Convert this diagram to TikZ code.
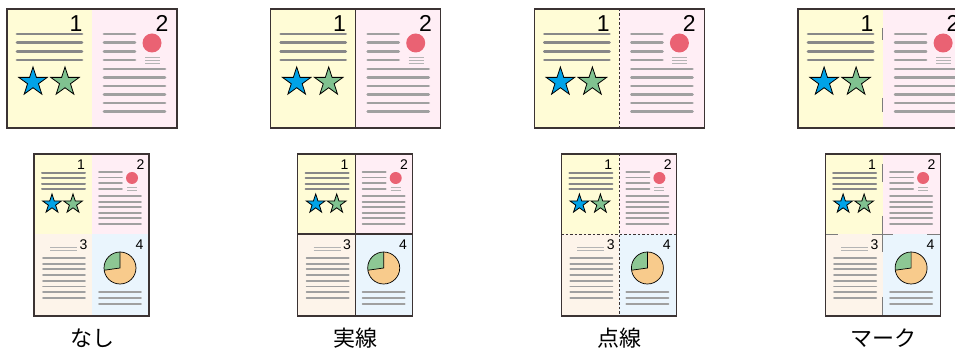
\documentclass[tikz,border=0pt]{standalone}
\usepackage{fontspec}
\newfontfamily\digitfont{Liberation Sans}
\newfontfamily\jpfont{Noto Sans CJK JP}
\usetikzlibrary{shapes.geometric,calc}
\definecolor{pgyellow}{HTML}{FFFCD6}
\definecolor{pgpink}{HTML}{FFEEF5}
\definecolor{pgbeige}{HTML}{FDF4EA}
\definecolor{pgblue}{HTML}{EAF5FD}
\definecolor{linedark}{HTML}{888888}
\definecolor{linelight}{HTML}{A0A0A0}
\definecolor{linefaint}{HTML}{B4B4B4}
\definecolor{starblue}{HTML}{00A3E8}
\definecolor{stargreen}{HTML}{80C290}
\definecolor{redcirc}{HTML}{EA6273}
\definecolor{pieorange}{HTML}{F8CB8C}
\definecolor{piegreen}{HTML}{8DC794}
\definecolor{framecol}{HTML}{3B3333}
\definecolor{markcol}{HTML}{7C7C7C}
\tikzset{
  tlineA/.style={line width=2.8pt, line cap=round, color=linedark},
  tlineB/.style={line width=2.7pt, line cap=round, color=linelight},
  tlineS/.style={line width=1.2pt, color=linefaint},
  blineA/.style={line width=2pt, line cap=round, color=linedark},
  blineB/.style={line width=1.9pt, line cap=round, color=linelight},
  blineS/.style={line width=1.1pt, color=linefaint},
  starnode/.style={star, star points=5, star point ratio=2.618, draw=black, line width=0.8pt, inner sep=0pt},
  bigdigit/.style={font=\digitfont\fontsize{23}{23}\selectfont, anchor=base east, inner sep=0pt, text=black},
  smalldigit/.style={font=\digitfont\fontsize{14}{14}\selectfont, anchor=base east, inner sep=0pt, text=black},
  sheetframe/.style={draw=framecol, line width=1.4pt},
  bsheetframe/.style={draw=framecol, line width=1.2pt},
  solidsep/.style={draw=framecol, line width=1.1pt},
  dashsep/.style={draw=framecol, line width=0.9pt, dash pattern=on 2.5pt off 2pt},
  marksep/.style={draw=markcol, line width=1.5pt},
  caption/.style={font=\jpfont\fontsize{22}{22}\selectfont, inner sep=0pt, text=black},
}
\newcommand\TopSheet[2]{%
\begin{scope}[shift={(#1,0)}]
  \fill[pgyellow] (7,9) rectangle (92,128);
  \fill[pgpink] (92,9) rectangle (177,128);
  \foreach \yy in {34,42.7,51.4,60} \draw[tlineA] (17,\yy) -- (82,\yy);
  \node[starnode, fill=starblue, minimum size=30pt] (#2sa) at (33,82) {};
  \node[starnode, fill=stargreen, minimum size=30pt] (#2sb) at (65,82) {};
  \node[bigdigit] (#2na) at (82.5,31.5) {1};
  \node[bigdigit] (#2nb) at (168.5,31.5) {2};
  \foreach \yy in {34,42.7,51.4,60} \draw[tlineB] (104,\yy) -- (135,\yy);
  \fill[redcirc] (152,43) circle[radius=9.5];
  \foreach \yy in {57.5,60.5,63.5} \draw[tlineS] (145,\yy) -- (160,\yy);
  \foreach \yy in {69,77.5,86,94.5,103,111.5} \draw[tlineB] (104,\yy) -- (165,\yy);
\end{scope}}
\newcommand\BottomSheet[2]{%
\begin{scope}[shift={(#1,0)}]
  \fill[pgyellow] (34,154) rectangle (92,234);
  \fill[pgpink] (92,154) rectangle (149,234);
  \fill[pgbeige] (34,234) rectangle (92,316);
  \fill[pgblue] (92,234) rectangle (149,316);
  \foreach \yy in {173,178.3,183.6,189} \draw[blineA] (42,\yy) -- (85,\yy);
  \node[starnode, fill=starblue, minimum size=20pt] (#2sa) at (52,204) {};
  \node[starnode, fill=stargreen, minimum size=20pt] (#2sb) at (73,204) {};
  \node[smalldigit] (#2na) at (85,170) {1};
  \node[smalldigit] (#2nb) at (144.5,169.5) {2};
  \fill[redcirc] (132,178) circle[radius=6];
  \foreach \yy in {172,177.5,183,189} \draw[blineB] (99,\yy) -- (122,\yy);
  \foreach \yy in {187.5,190.5} \draw[blineS] (127,\yy) -- (137,\yy);
  \foreach \yy in {196,201.6,207.2,212.8,218.4,224} \draw[blineB] (99,\yy) -- (141,\yy);
  \node[smalldigit] (#2nc) at (87.5,250) {3};
  \foreach \yy in {247.5,250.5} \draw[blineS] (50,\yy) -- (77,\yy);
  \foreach \yy in {258,263.7,269.4,275.1,280.8,286.5,292.2,297.9} \draw[blineB] (43,\yy) -- (85,\yy);
  \node[smalldigit] (#2nd) at (143.5,250) {4};
  \fill[pieorange] (120,268) circle[radius=16];
  \fill[piegreen] (120,268) -- ++(172:16) arc[start angle=172, end angle=270, radius=16] -- cycle;
  \draw[black, line width=0.7pt] (120,268) circle[radius=16];
  \draw[black, line width=0.7pt] ($(120,268)+(172:16)$) -- (120,268) -- (120,252);
  \foreach \yy in {292,298,304} \draw[blineB] (99,\yy) -- (141,\yy);
\end{scope}}
\begin{document}
\begin{tikzpicture}[x=1pt, y=-1pt]
  \clip (0,0) rectangle (955,352);
  \fill[white] (0,0) rectangle (955,352);
  \TopSheet{0}{ta}
  \TopSheet{263.7}{tb}
  \TopSheet{527.4}{tc}
  \TopSheet{791.1}{td}
  \BottomSheet{0}{ba}
  \BottomSheet{263.7}{bb}
  \BottomSheet{527.4}{bc}
  \BottomSheet{791.1}{bd}
  % solid separators
  \begin{scope}[shift={(263.7,0)}]
    \draw[solidsep] (92,9) -- (92,128);
    \draw[solidsep] (92,154) -- (92,316);
    \draw[solidsep] (34,234) -- (149,234);
  \end{scope}
  % dashed separators
  \begin{scope}[shift={(527.4,0)}]
    \draw[dashsep] (92,9) -- (92,128);
    \draw[dashsep] (92,154) -- (92,316);
    \draw[dashsep] (34,234) -- (149,234);
  \end{scope}
  % marks
  \begin{scope}[shift={(791.1,0)}]
    \draw[marksep] (91.5,28) -- (91.5,40);
    \draw[marksep] (91.5,98) -- (91.5,112);
    \draw[marksep] (91.5,164) -- (91.5,182);
    \draw[marksep] (91.5,216) -- (91.5,252);
    \draw[marksep] (91.5,297) -- (91.5,316);
    \draw[marksep] (34,234.5) -- (47,234.5);
    \draw[marksep] (81,234.5) -- (102,234.5);
    \draw[marksep] (136,234.5) -- (149,234.5);
  \end{scope}
  % frames
  \foreach \ox in {0,263.7,527.4,791.1} {
    \draw[sheetframe] (7+\ox,9) rectangle (177+\ox,128);
    \draw[bsheetframe] (34+\ox,154) rectangle (149+\ox,316);
  }
  % captions
  \node[caption] (capa) at (92,338) {なし};
  \node[caption] (capb) at (355.7,338) {実線};
  \node[caption] (capc) at (619.4,338) {点線};
  \node[caption] (capd) at (883.1,338) {マーク};
\end{tikzpicture}
\end{document}
